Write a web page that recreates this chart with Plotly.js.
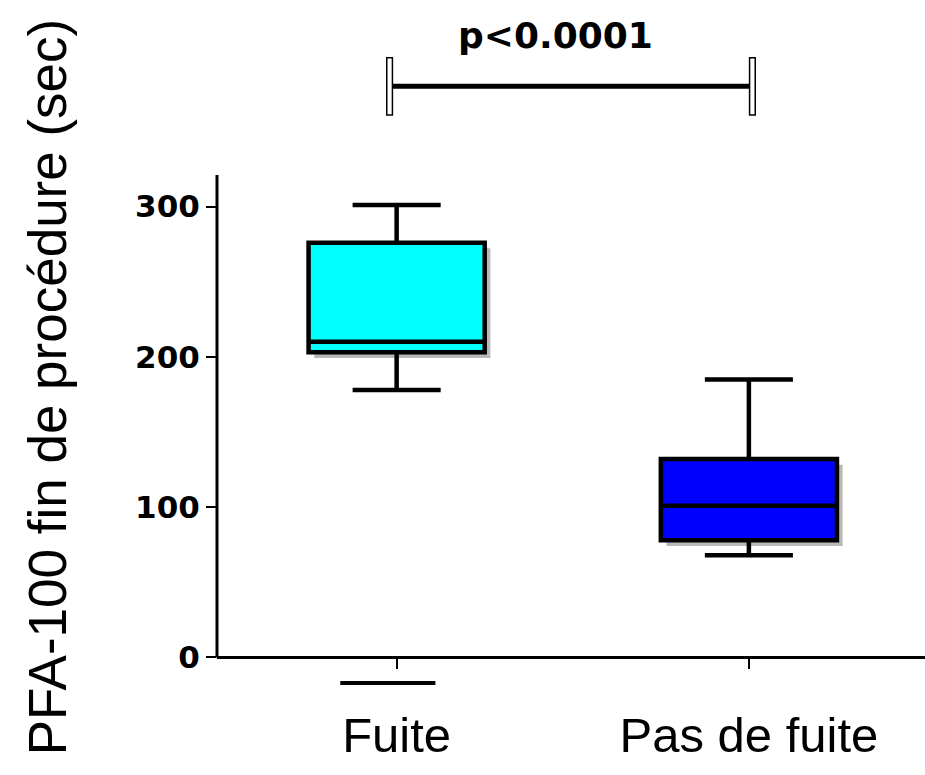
<!DOCTYPE html>
<html>
<head>
<meta charset="utf-8">
<script src="https://cdn.plot.ly/plotly-3.0.1.min.js"></script>
<style>html,body{margin:0;padding:0;background:#fff;}</style>
</head>
<body>
<div id="chart" style="width:925px;height:775px;"></div>
<script>
// ---- data ----
const categories = ["Fuite", "Pas de fuite"];
const lowerWhisker = [178, 68];
const q1Values = [203, 78];
const medianValues = [210, 101];
const q3Values = [276, 132];
const upperWhisker = [301, 185];
const boxColors = ["#00FFFF", "#0000FF"];
const yTickValues = [0, 100, 200, 300];
const yTickLabels = ["0", "100", "200", "300"];
const pValueText = "p<0.0001";
const bracketValue = 380;       // y level of significance bracket (data units)
const strayCapValue = -17;      // lone cap drawn under "Fuite"
const yTitle = "PFA-100 fin de procédure (sec)";

const yRange = [-25, 321];
const xRange = [-0.51, 1.5];
const yp = v => (v - yRange[0]) / (yRange[1] - yRange[0]);
const xp = v => (v - xRange[0]) / (xRange[1] - xRange[0]);

const traces = categories.map((c, i) => ({
  type: "box",
  x: [c],
  q1: [q1Values[i]],
  median: [medianValues[i]],
  q3: [q3Values[i]],
  lowerfence: [lowerWhisker[i]],
  upperfence: [upperWhisker[i]],
  width: 0.5,
  whiskerwidth: 0.5,
  fillcolor: boxColors[i],
  line: {color: "#000000", width: 4.5},
  boxpoints: false,
  hoverinfo: "skip",
  showlegend: false
}));

const sx = 0.008, sy = 0.011; // drop-shadow offset (paper units)
const shadowShapes = categories.map((c, i) => ({
  type: "rect", xref: "paper", yref: "paper", layer: "below",
  x0: xp(i - 0.25) + sx, x1: xp(i + 0.25) + sx,
  y0: yp(q1Values[i]) - sy, y1: yp(q3Values[i]) - sy,
  line: {width: 0}, fillcolor: "rgba(0,0,0,0.28)"
}));

const shapes = shadowShapes.concat([
  // y axis line (from 0 up to top)
  {type: "line", xref: "paper", yref: "paper", x0: 0, x1: 0, y0: yp(0), y1: 1,
   line: {color: "#000", width: 3}},
  // lone cap under Fuite
  {type: "line", xref: "paper", yref: "paper", x0: xp(-0.16), x1: xp(0.11),
   y0: yp(strayCapValue), y1: yp(strayCapValue), line: {color: "#000", width: 4}},
  // bracket horizontal
  {type: "line", xref: "paper", yref: "paper", x0: xp(-0.02), x1: xp(1.01),
   y0: yp(bracketValue), y1: yp(bracketValue), line: {color: "#000", width: 5}},
  // bracket ends (hollow thin rectangles)
  {type: "rect", xref: "paper", yref: "paper", x0: xp(-0.02) - 0.004, x1: xp(-0.02) + 0.004,
   y0: yp(bracketValue - 19), y1: yp(bracketValue + 19), line: {color: "#000", width: 1.5}, fillcolor: "#fff"},
  {type: "rect", xref: "paper", yref: "paper", x0: xp(1.01) - 0.004, x1: xp(1.01) + 0.004,
   y0: yp(bracketValue - 19), y1: yp(bracketValue + 19), line: {color: "#000", width: 1.5}, fillcolor: "#fff"}
]);

const layout = {
  width: 925, height: 775,
  margin: {l: 217, r: 0, t: 175, b: 80},
  paper_bgcolor: "#fff", plot_bgcolor: "rgba(0,0,0,0)",
  showlegend: false,
  xaxis: {
    type: "category",
    range: xRange,
    anchor: "free",
    position: yp(0),
    showline: true, linecolor: "#000", linewidth: 3,
    ticks: "outside", ticklen: 10, tickwidth: 2, tickcolor: "#000",
    showgrid: false, zeroline: false,
    tickfont: {family: "Liberation Sans, Arial, sans-serif", size: 49, color: "#000"},
    ticklabelstandoff: 24
  },
  yaxis: {
    range: yRange,
    domain: [0, 1],
    showline: false, showgrid: false, zeroline: false,
    ticks: "outside", ticklen: 10, tickwidth: 2, tickcolor: "#000",
    tickvals: yTickValues, ticktext: yTickLabels,
    tickfont: {family: "DejaVu Sans, sans-serif", size: 31, color: "#000", weight: "bold"}
  },
  shapes: shapes,
  annotations: [{
    xref: "paper", yref: "paper", x: xp(0.45), y: yp(414),
    text: "<b>" + pValueText + "</b>", showarrow: false,
    xanchor: "center", yanchor: "middle",
    font: {family: "DejaVu Sans, sans-serif", size: 36, color: "#000"}
  }, {
    xref: "paper", yref: "paper", x: -0.24, y: 0.592,
    text: yTitle, textangle: -90, showarrow: false,
    xanchor: "center", yanchor: "middle",
    font: {family: "Liberation Sans, Arial, sans-serif", size: 53, color: "#000"}
  }]
};

Plotly.newPlot("chart", traces, layout, {displayModeBar: false, staticPlot: true});
</script>
</body>
</html>
